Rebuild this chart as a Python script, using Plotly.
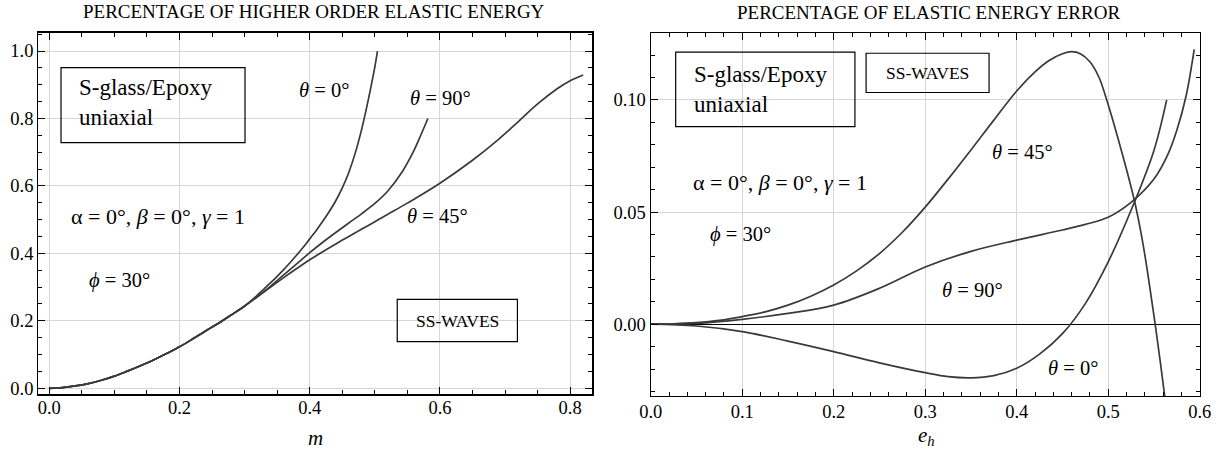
import plotly.graph_objects as go

# ---------------- left panel: percentage of higher order elastic energy ----------------
m_common = [0.00, 0.02, 0.04, 0.06, 0.08, 0.10, 0.12, 0.14, 0.16, 0.18, 0.20, 0.22, 0.24, 0.26, 0.28, 0.30]
E_common = [0.000, 0.002, 0.007, 0.014, 0.024, 0.036, 0.051, 0.067, 0.084, 0.103, 0.123, 0.146, 0.170, 0.193, 0.218, 0.244]

m_t0 = [0.31, 0.32, 0.33, 0.34, 0.35, 0.36, 0.37, 0.38, 0.39, 0.40, 0.41, 0.42, 0.43, 0.44, 0.45, 0.46, 0.47, 0.48, 0.49, 0.50, 0.504]
E_t0 = [0.260, 0.277, 0.295, 0.313, 0.332, 0.352, 0.373, 0.395, 0.418, 0.443, 0.468, 0.495, 0.524, 0.556, 0.594, 0.640, 0.698, 0.770, 0.856, 0.953, 1.000]

m_t90 = [0.32, 0.34, 0.36, 0.38, 0.40, 0.42, 0.44, 0.46, 0.48, 0.50, 0.52, 0.54, 0.56, 0.57, 0.5815]
E_t90 = [0.272, 0.303, 0.336, 0.369, 0.402, 0.433, 0.462, 0.490, 0.518, 0.548, 0.585, 0.636, 0.705, 0.748, 0.800]

m_t45 = [0.32, 0.34, 0.36, 0.38, 0.40, 0.42, 0.44, 0.46, 0.48, 0.50, 0.52, 0.55, 0.60, 0.65, 0.69, 0.72, 0.75, 0.78, 0.80, 0.82]
E_t45 = [0.272, 0.300, 0.328, 0.355, 0.381, 0.405, 0.428, 0.450, 0.472, 0.494, 0.516, 0.549, 0.608, 0.676, 0.738, 0.790, 0.843, 0.888, 0.912, 0.929]

# ---------------- right panel: percentage of elastic energy error ----------------
e_r45 = [0.0, 0.025, 0.05, 0.075, 0.10, 0.125, 0.15, 0.175, 0.20, 0.225, 0.25, 0.275, 0.30, 0.325, 0.35, 0.375, 0.40, 0.42, 0.435,
         0.45, 0.46, 0.47, 0.48, 0.49, 0.4984, 0.505, 0.513, 0.521, 0.529, 0.5355, 0.541, 0.546, 0.5515, 0.557, 0.563]
err_r45 = [0.0, 0.0002, 0.0007, 0.0017, 0.0034, 0.0055, 0.0085, 0.0125, 0.0175, 0.0238, 0.0315, 0.0410, 0.0522, 0.0647, 0.0777, 0.0910, 0.1040, 0.1125, 0.1175,
           0.1206, 0.1215, 0.1205, 0.1170, 0.1100, 0.100, 0.091, 0.0795, 0.0675, 0.0545, 0.0415, 0.0285, 0.0150, -0.0005, -0.017, -0.036]

e_r90 = [0.0, 0.05, 0.10, 0.15, 0.20, 0.25, 0.30, 0.35, 0.40, 0.45, 0.475, 0.50, 0.525, 0.55, 0.565, 0.575, 0.585, 0.594]
err_r90 = [0.0, 0.0004, 0.0022, 0.0048, 0.0085, 0.016, 0.0255, 0.0325, 0.0375, 0.042, 0.0445, 0.0477, 0.0543, 0.0647, 0.0755, 0.0865, 0.1015, 0.1225]

e_r0 = [0.0, 0.05, 0.10, 0.15, 0.20, 0.25, 0.30, 0.325, 0.35, 0.375, 0.40, 0.425, 0.45, 0.475, 0.50, 0.525, 0.55, 0.5639]
err_r0 = [0.0, -0.0008, -0.0033, -0.0075, -0.0122, -0.0172, -0.0216, -0.0234, -0.0239, -0.0229, -0.0196, -0.0133, -0.0042, 0.0092, 0.0278, 0.0508, 0.0775, 0.100]

FONT = "Liberation Serif"
LINE = dict(color="#3a3a3a", width=1.7, shape="spline", smoothing=1.0)

fig = go.Figure()
for mx, ey in [(m_t0, E_t0), (m_t90, E_t90), (m_t45, E_t45)]:
    fig.add_trace(go.Scatter(x=m_common + mx, y=E_common + ey, mode="lines", line=LINE,
                             xaxis="x", yaxis="y", showlegend=False, hoverinfo="skip"))
for ex, ry in [(e_r45, err_r45), (e_r90, err_r90), (e_r0, err_r0)]:
    fig.add_trace(go.Scatter(x=ex, y=ry, mode="lines", line=LINE,
                             xaxis="x2", yaxis="y2", showlegend=False, hoverinfo="skip"))

W, H = 1223, 461


def ax(domain, rng, dtick, minor_dtick, fmt, standoff=0, zeroline=False):
    return dict(
        domain=domain, range=rng, tickmode="linear", tick0=0, dtick=dtick, tickformat=fmt,
        showline=True, linecolor="black", linewidth=1.2, mirror="allticks",
        ticks="inside", ticklen=7, tickwidth=1, tickcolor="black",
        showgrid=True, gridcolor="#d6d6d6", gridwidth=1,
        zeroline=zeroline, zerolinecolor="black", zerolinewidth=1.4,
        tickfont=dict(family=FONT, size=18.5, color="black"),
        ticklabelstandoff=standoff,
        minor=dict(ticks="inside", ticklen=4, tickwidth=1, tickcolor="black",
                   dtick=minor_dtick, tick0=0, showgrid=False),
        automargin=False, fixedrange=True,
    )


fig.update_layout(
    width=W, height=H, margin=dict(l=0, r=0, t=0, b=0),
    paper_bgcolor="white", plot_bgcolor="white",
    font=dict(family=FONT, color="black"),
    xaxis=ax([38.3 / W, 592.3 / W], [-0.0169, 0.834], 0.2, 0.05, ".1f", standoff=-4),
    yaxis=ax([1 - 394.3 / H, 1 - 32.7 / H], [-0.0178, 1.0543], 0.2, 0.05, ".1f"),
    xaxis2=dict(ax([650.7 / W, 1199.7 / W], [0.0, 0.6], 0.1, 0.02, ".1f", standoff=-1), anchor="y2"),
    yaxis2=dict(ax([1 - 396 / H, 1 - 33.3 / H], [-0.032, 0.1297], 0.05, 0.01, ".2f", zeroline=True), anchor="x2"),
)

anns = []


def txt(x, y, text, size, xref, yref, xanchor="center", yanchor="middle", align="center"):
    anns.append(dict(x=x, y=y, xref=xref, yref=yref, text=text, showarrow=False,
                     xanchor=xanchor, yanchor=yanchor, align=align,
                     font=dict(family=FONT, size=size, color="black")))


# titles
txt(313.8 / W, 1 - 11.5 / H, "PERCENTAGE OF HIGHER ORDER ELASTIC ENERGY", 19, "paper", "paper")
txt(928.4 / W, 1 - 13 / H, "PERCENTAGE OF ELASTIC ENERGY ERROR", 19, "paper", "paper")
# axis titles
txt(315 / W, 1 - 438 / H, "<i>m</i>", 21, "paper", "paper")
txt(926 / W, 1 - 436 / H, "<i>e</i><sub><i>h</i></sub>", 21, "paper", "paper")

ALPHA = "α = 0°, <i>β</i> = 0°, <i>γ</i> = 1"

# left panel labels
txt(0.0418, 0.847, "S-glass/Epoxy<br>uniaxial", 23, "x", "y", xanchor="left", align="left")
txt(0.6267, 0.201, "SS-WAVES", 17.5, "x", "y")
txt(0.1677, 0.509, ALPHA, 22, "x", "y")
txt(0.108, 0.321, "<i>ϕ</i> = 30°", 20.5, "x", "y")
txt(0.4216, 0.884, "<i>θ</i> = 0°", 20.5, "x", "y")
txt(0.6016, 0.860, "<i>θ</i> = 90°", 20.5, "x", "y")
txt(0.5957, 0.511, "<i>θ</i> = 45°", 20.5, "x", "y")

# right panel labels
txt(0.0455, 0.1047, "S-glass/Epoxy<br>uniaxial", 23, "x2", "y2", xanchor="left", align="left")
txt(0.3026, 0.1120, "SS-WAVES", 17.5, "x2", "y2")
txt(0.1408, 0.0634, ALPHA, 22, "x2", "y2")
txt(0.098, 0.0398, "<i>ϕ</i> = 30°", 20.5, "x2", "y2")
txt(0.4062, 0.0769, "<i>θ</i> = 45°", 20.5, "x2", "y2")
txt(0.352, 0.0153, "<i>θ</i> = 90°", 20.5, "x2", "y2")
txt(0.4618, -0.0196, "<i>θ</i> = 0°", 20.5, "x2", "y2")

fig.update_layout(annotations=anns)

# label boxes
box = dict(type="rect", line=dict(color="black", width=1.2), fillcolor="rgba(0,0,0,0)", layer="above")
fig.add_shape(box, xref="x", yref="y", x0=0.018, x1=0.3006, y0=0.7281, y1=0.9505)
fig.add_shape(box, xref="x", yref="y", x0=0.5344, x1=0.7190, y0=0.1382, y1=0.2639)
fig.add_shape(box, xref="x2", yref="y2", x0=0.0273, x1=0.2232, y0=0.0881, y1=0.1213)
fig.add_shape(box, xref="x2", yref="y2", x0=0.2354, x1=0.3698, y0=0.1033, y1=0.1208)

fig.write_html("out.html", config={"staticPlot": True},
               post_script="document.body.style.margin='0';document.body.style.overflow='hidden';")
